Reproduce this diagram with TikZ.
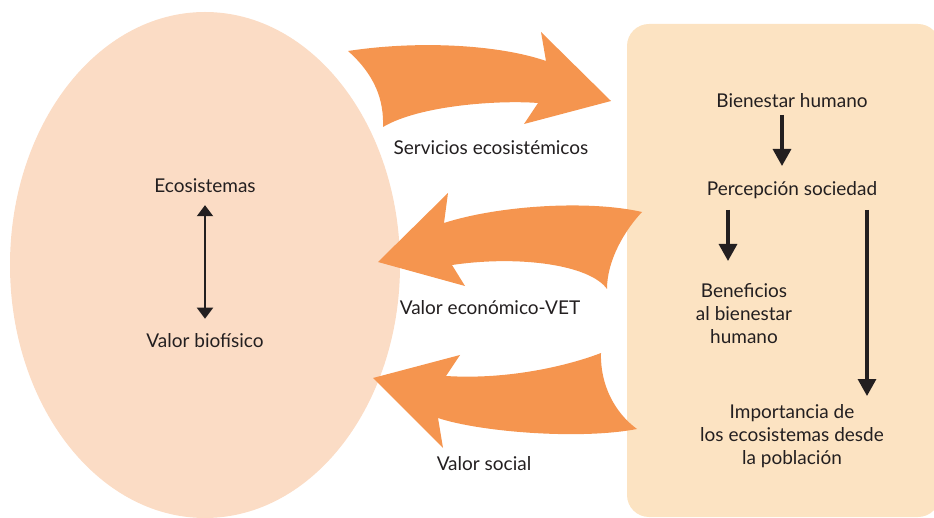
\documentclass[tikz,border=0pt]{standalone}
\usepackage{fontspec}
\setmainfont{Lato}
\usetikzlibrary{arrows.meta}
\definecolor{ecofill}{HTML}{FBDCC5}
\definecolor{boxfill}{HTML}{FCE3C2}
\definecolor{orng}{HTML}{F5954F}
\definecolor{ink}{HTML}{231F20}
\tikzset{
  lbl/.style={text=ink, font=\fontsize{19}{23}\selectfont, inner sep=0pt, align=center},
  bigarrow/.style={fill=orng, draw=none},
  blk/.style={draw=ink, line width=3.2pt, -{Triangle[length=17pt,width=18pt]}},
  dbl/.style={draw=ink, line width=2pt, {Triangle[length=11pt,width=16pt]}-{Triangle[length=11pt,width=16pt]}}
}
\begin{document}
\begin{tikzpicture}[x=1pt,y=-1pt]
\useasboundingbox (0,0) rectangle (934,518);
\begin{scope}
\clip (0,0) rectangle (934,518);
\fill[ecofill] (205,265) ellipse [x radius=195, y radius=253];
\fill[boxfill, rounded corners=22pt] (627,24) rectangle (940,517);
\end{scope}
% big arrows
\fill[bigarrow] (348,51) .. controls (420,40) and (500,45) .. (546,61)
  -- (541,32) -- (611,101) -- (524,124) -- (538,103)
  .. controls (500,100) and (420,105) .. (383,127)
  .. controls (384,100) and (375,75) .. (348,51) -- cycle;
\fill[bigarrow] (378,262) -- (448,193) -- (444,223)
  .. controls (500,205) and (590,200) .. (642,212)
  .. controls (625,230) and (607,260) .. (607,289)
  .. controls (590,265) and (520,255) .. (452,265)
  -- (465,286) -- cycle;
\fill[bigarrow] (373,378) -- (460,355) -- (446,376)
  .. controls (510,380) and (570,365) .. (601,353)
  .. controls (600,385) and (615,413) .. (637,429)
  .. controls (580,440) and (480,432) .. (438,418)
  -- (443,448) -- cycle;
% labels
\node[lbl] (serv) at (491,148) {Servicios ecosistémicos};
\node[lbl] (econ) at (490,308) {Valor económico-VET};
\node[lbl] (soc) at (484,464) {Valor social};
\node[lbl] (eco) at (205,186) {Ecosistemas};
\node[lbl] (bio) at (205,341) {Valor biofísico};
\node[lbl] (bien) at (792,101) {Bienestar humano};
\node[lbl] (perc) at (792,190) {Percepción sociedad};
\node[lbl] (bene) at (744,314) {Beneficios\\al bienestar\\humano};
\node[lbl] (imp) at (792,436) {Importancia de\\los ecosistemas desde\\la población};
% connectors
\coordinate (a1) at (782,115);
\coordinate (a2) at (782,166);
\coordinate (b1) at (728,210);
\coordinate (b2) at (728,261);
\coordinate (c1) at (867,210);
\coordinate (c2) at (867,396);
\draw[blk] (a1) -- (a2);
\draw[blk] (b1) -- (b2);
\draw[blk] (c1) -- (c2);
\draw[dbl] ([yshift=-12pt]eco.south) -- ([yshift=15pt]bio.north);
\end{tikzpicture}
\end{document}
